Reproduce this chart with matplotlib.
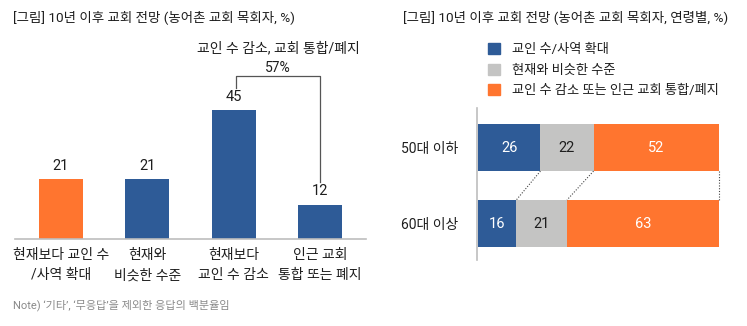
import numpy as np
import matplotlib
matplotlib.use("Agg")
import matplotlib.pyplot as plt
from matplotlib.patches import Patch

plt.rcParams["font.family"] = ["Roboto", "Noto Sans CJK KR", "DejaVu Sans"]

# left panel data
left_cats = ["현재보다 교인 수\n/사역 확대", "현재와\n비슷한 수준", "현재보다\n교인 수 감소", "인근 교회\n통합 또는 폐지"]
left_vals = [21, 21, 45, 12]
bracket_label = "교인 수 감소, 교회 통합/폐지"
bracket_total = 57

# right panel data
groups = ["50대 이하", "60대 이상"]
series = ["교인 수/사역 확대", "현재와 비슷한 수준", "교인 수 감소 또는 인근 교회 통합/폐지"]
expand = [26, 16]
similar = [22, 21]
decline = [52, 63]

BLUE = "#2E5B97"
ORANGE = "#FF752F"
GRAY = "#C4C4C3"
AXC = "#BDBDBD"
TXT = "#1E1E1E"

W, H = 747, 326
fig = plt.figure(figsize=(W / 100, H / 100), dpi=100)

def px_axes(x0, y0, x1, y1):
    return fig.add_axes([x0 / W, 1 - y1 / H, (x1 - x0) / W, (y1 - y0) / H])

# ---------------- left: column chart ----------------
ax = px_axes(15, 60, 366, 239)
xs = np.arange(len(left_vals))
cols = [ORANGE, BLUE, BLUE, BLUE]
ax.bar(xs, left_vals, width=0.51, color=cols)
ax.set_xlim(-0.533, 3.533)
ax.set_ylim(0, 62.65)
for x, v in zip(xs, left_vals):
    ax.annotate(str(v), (x, v), xytext=(0, 4.5), textcoords="offset points",
                ha="center", va="bottom", fontsize=10.5, color=TXT)
for s in ["top", "right", "left"]:
    ax.spines[s].set_visible(False)
ax.spines["bottom"].set_color(AXC)
ax.spines["bottom"].set_linewidth(1.2)
ax.set_yticks([])
ax.set_xticks(xs)
ax.set_xticklabels(left_cats, fontsize=10, color=TXT, linespacing=1.55)
ax.tick_params(axis="x", length=0, pad=6.5)

# bracket over the two "decline" bars
bx0, bx1 = 2.03, 3.0
top = 57
ax.plot([bx0, bx0, bx1, bx1], [left_vals[2] + 8, top, top, left_vals[3] + 8],
        color="#555555", lw=0.9, clip_on=False)
ax.text((bx0 + bx1) / 2, top + 0.5, f"{bracket_total}%", ha="center", va="bottom",
        fontsize=10, color=TXT, clip_on=False)
ax.text((bx0 + bx1) / 2, top + 7.3, bracket_label, ha="center", va="bottom",
        fontsize=10, color=TXT, clip_on=False)

fig.text(13 / W, 1 - 17 / H, "[그림] 10년 이후 교회 전망 (농어촌 교회 목회자, %)",
         ha="left", va="center", fontsize=9.7, color=TXT)
fig.text(13 / W, 1 - 305 / H, "Note) ‘기타’, ‘무응답’을 제외한 응답의 백분율임",
         ha="left", va="center", fontsize=8, color="#8A8A8A")

# ---------------- right: stacked horizontal bars ----------------
ax2 = px_axes(477, 108, 719, 260)
ys = np.arange(len(groups))
h = 0.62
expand = np.array(expand)
similar = np.array(similar)
decline = np.array(decline)
ax2.barh(ys, expand, height=h, color=BLUE)
ax2.barh(ys, similar, left=expand, height=h, color=GRAY)
ax2.barh(ys, decline, left=expand + similar, height=h, color=ORANGE)
ax2.set_xlim(-0.3, 100)
ax2.set_ylim(1.48, -0.52)
for y in ys:
    ax2.text(expand[y] / 2, y, str(expand[y]), ha="center", va="center", fontsize=10.5, color="white")
    ax2.text(expand[y] + similar[y] / 2, y, str(similar[y]), ha="center", va="center", fontsize=10.5, color=TXT)
    ax2.text(expand[y] + similar[y] + decline[y] / 2, y, str(decline[y]), ha="center", va="center",
             fontsize=10.5, color="white")

# dotted connectors between segment edges
edges_top = np.cumsum([expand[0], similar[0], decline[0]])
edges_bot = np.cumsum([expand[1], similar[1], decline[1]])
for a, b in zip(edges_top, edges_bot):
    ax2.plot([a, b], [0 + h / 2, 1 - h / 2], color="#444444", lw=0.8, ls=(0, (1, 1.5)), clip_on=False)

for s in ["top", "right", "bottom"]:
    ax2.spines[s].set_visible(False)
ax2.spines["left"].set_color(AXC)
ax2.spines["left"].set_linewidth(1.2)
ax2.set_xticks([])
ax2.set_yticks(ys)
ax2.set_yticklabels(groups, fontsize=10, color=TXT)
ax2.tick_params(axis="y", length=0, pad=13.5)

fig.text(403 / W, 1 - 17 / H, "[그림] 10년 이후 교회 전망 (농어촌 교회 목회자, 연령별, %)",
         ha="left", va="center", fontsize=9.7, color=TXT)

handles = [Patch(color=c) for c in (BLUE, GRAY, ORANGE)]
fig.legend(handles, series, loc="upper left", bbox_to_anchor=(483 / W, 1 - 38 / H),
           frameon=False, fontsize=9.5, handlelength=0.9, handleheight=0.9,
           handletextpad=0.9, labelspacing=0.55, borderaxespad=0, labelcolor=TXT)

fig.savefig("out.png", dpi=100)
